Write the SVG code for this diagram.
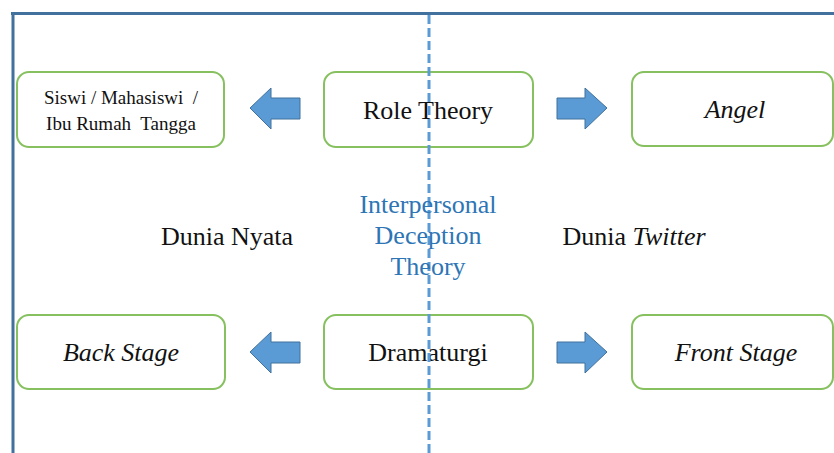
<svg xmlns="http://www.w3.org/2000/svg" width="834" height="453" viewBox="0 0 834 453">
  <style>
    .box { fill: #ffffff; stroke: #86c05f; stroke-width: 2; }
    .lbl { font-size: 26px; fill: #111111; text-anchor: middle; }
    .sm { font-size: 19px; white-space: pre; }
    .it { font-style: italic; }
    .blue { fill: #2e75b6; }
    .arrow { fill: #5b9bd5; stroke: #41719c; stroke-width: 1; }
  </style>

  <rect width="834" height="453" fill="#ffffff"/>

  <!-- frame -->
  <g id="frame" stroke="#41719c" stroke-width="3" fill="none">
    <line x1="11" y1="13.5" x2="834" y2="13.5"/>
    <line x1="13" y1="12" x2="13" y2="453"/>
  </g>

  <g font-family="Liberation Serif, Tinos, DejaVu Serif, serif">
  <!-- nodes -->
  <g id="role-theory">
    <rect class="box" x="324" y="72" width="209" height="75" rx="12"/>
    <text class="lbl" x="428" y="119">Role Theory</text>
  </g>
  <g id="siswi">
    <rect class="box" x="17" y="72" width="207" height="75" rx="12"/>
    <text class="lbl sm" x="121" y="104">Siswi / Mahasiswi  /</text>
    <text class="lbl sm" x="121" y="130">Ibu Rumah  Tangga</text>
  </g>
  <g id="angel">
    <rect class="box" x="632" y="72" width="201" height="74" rx="12"/>
    <text class="lbl it" x="735" y="118">Angel</text>
  </g>
  <g id="dramaturgi">
    <rect class="box" x="324" y="315" width="209" height="74" rx="12"/>
    <text class="lbl" x="428" y="361">Dramaturgi</text>
  </g>
  <g id="back-stage">
    <rect class="box" x="17" y="315" width="208" height="74" rx="12"/>
    <text class="lbl it" x="121" y="361">Back Stage</text>
  </g>
  <g id="front-stage">
    <rect class="box" x="632" y="315" width="201" height="74" rx="12"/>
    <text class="lbl it" x="736" y="361">Front Stage</text>
  </g>

  <g id="dunia-nyata">
    <text class="lbl" x="227" y="245">Dunia Nyata</text>
  </g>
  <g id="dunia-twitter">
    <text class="lbl" x="634" y="245">Dunia <tspan class="it">Twitter</tspan></text>
  </g>

  <!-- divider -->
  <line x1="429" y1="15" x2="429" y2="453" stroke="#5b9bd5" stroke-width="3" stroke-dasharray="9 4"/>

  <g id="idt">
    <text class="lbl blue" x="428" y="213">Interpersonal</text>
    <text class="lbl blue" x="428" y="244">Deception</text>
    <text class="lbl blue" x="428" y="275">Theory</text>
  </g>
  </g>

  <!-- connectors -->
  <g id="connectors">
    <polygon class="arrow" points="250,108 271,88 271,98 300,98 300,119 271,119 271,129"/>
    <polygon class="arrow" points="607,108 585,88 585,98 557,98 557,119 585,119 585,129"/>
    <polygon class="arrow" points="250,352 271,332 271,342 300,342 300,363 271,363 271,373"/>
    <polygon class="arrow" points="607,352 585,332 585,342 557,342 557,363 585,363 585,373"/>
  </g>
</svg>
